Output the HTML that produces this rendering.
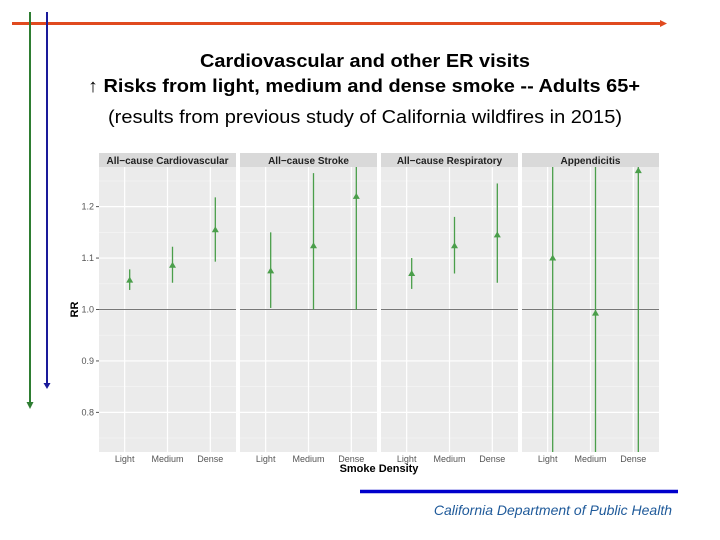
<!DOCTYPE html>
<html><head><meta charset="utf-8"><style>
body{margin:0;background:#fff;}
svg{display:block;font-family:"Liberation Sans",sans-serif;}
</style></head><body>
<svg id="c" width="720" height="540" viewBox="0 0 720 540">
<line x1="12" y1="23.5" x2="660" y2="23.5" stroke="#e04a1f" stroke-width="3"/>
<polygon points="660,20 667,23.5 660,27" fill="#e04a1f"/>
<line x1="30" y1="12" x2="30" y2="402" stroke="#2e7d32" stroke-width="2"/>
<polygon points="26.5,402 33.5,402 30,409" fill="#2e7d32"/>
<line x1="47" y1="12" x2="47" y2="383" stroke="#1a1a9a" stroke-width="2"/>
<polygon points="43.5,383 50.5,383 47,389" fill="#1a1a9a"/>
<text x="200" y="67" font-size="18.5" font-weight="bold" textLength="330" lengthAdjust="spacingAndGlyphs">Cardiovascular and other ER visits</text>
<text x="88" y="92" font-size="18.5" font-weight="bold" textLength="552" lengthAdjust="spacingAndGlyphs"><tspan font-weight="normal">↑</tspan> Risks from light, medium and dense smoke -- Adults 65+</text>
<text x="108" y="123" font-size="18.5" textLength="514" lengthAdjust="spacingAndGlyphs">(results from previous study of California wildfires in 2015)</text>
<g id="chart"></g>
<line x1="360" y1="491.5" x2="678" y2="491.5" stroke="#0000cc" stroke-width="3.5"/>
<text x="672" y="515" text-anchor="end" font-size="14" font-style="italic" fill="#1f5a9a">California Department of Public Health</text>
</svg>
<script>
const panels = ["All\u2212cause Cardiovascular","All\u2212cause Stroke","All\u2212cause Respiratory","Appendicitis"];
const categories = ["Light","Medium","Dense"];
const rr = [[1.057,1.086,1.155],[1.075,1.124,1.220],[1.070,1.124,1.145],[1.100,0.993,1.270]];
const lower = [[1.038,1.052,1.093],[1.003,1.000,1.000],[1.040,1.070,1.052],[0.700,0.700,0.700]];
const upper = [[1.078,1.122,1.218],[1.150,1.265,1.400],[1.100,1.180,1.245],[1.400,1.400,1.400]];
const yTicks = [0.8,0.9,1.0,1.1,1.2];
const yTickLabels = ["0.8","0.9","1.0","1.1","1.2"];

const NS="http://www.w3.org/2000/svg";
const g=document.getElementById('chart');
const pTop=167, pBot=452, yMin=0.723, yMax=1.277;
const px=[[99,236],[240,377],[381,518],[522,659]];
function y(v){return pBot-(v-yMin)/(yMax-yMin)*(pBot-pTop);}
function cx(p,i){const a=px[p][0],b=px[p][1];return a+(b-a)*((i+1-0.4)/3.2);}
function el(t,a,parent){const e=document.createElementNS(NS,t);for(const k in a)e.setAttribute(k,a[k]);(parent||g).appendChild(e);return e;}
const clip=el('clipPath',{id:'pc'});
el('rect',{x:99,y:pTop,width:560,height:pBot-pTop},clip);
panels.forEach((name,p)=>{
  const a=px[p][0],b=px[p][1];
  const bg=el('rect',{x:a,y:pTop,width:b-a,height:pBot-pTop,fill:'#ebebeb'});
  
  
  const st=el('rect',{x:a,y:153,width:b-a,height:14,fill:'#d9d9d9'});
  
  
  const stt=el('text',{x:(a+b)/2,y:164,'text-anchor':'middle','font-size':'10','font-weight':'bold',fill:'#222'});
  stt.textContent=name;
  
  
  const minors=[0.75,0.85,0.95,1.05,1.15,1.25];
  minors.forEach(m=>{const l=el('line',{x1:a,x2:b,y1:y(m),y2:y(m),stroke:'#f5f5f5','stroke-width':0.6});
    
    });
  yTicks.forEach(t=>{const l=el('line',{x1:a,x2:b,y1:y(t),y2:y(t),stroke:'#fff','stroke-width':1.2});
    
    });
  categories.forEach((c,i)=>{const l=el('line',{x1:cx(p,i),x2:cx(p,i),y1:pTop,y2:pBot,stroke:'#fff','stroke-width':1.2});
    
    
    const tl=el('text',{x:cx(p,i),y:462,'text-anchor':'middle','font-size':'9',fill:'#555'});
    tl.textContent=c;
    
    });
  const ref=el('line',{x1:a,x2:b,y1:y(1),y2:y(1),stroke:'#777','stroke-width':1});
  
  
  categories.forEach((c,i)=>{const x=cx(p,i)+5;
    const e=el('line',{x1:x,x2:x,y1:y(lower[p][i]),y2:y(upper[p][i]),stroke:'#4a9e4a','stroke-width':1.3,'clip-path':'url(#pc)'});
    
    
    const yy=y(rr[p][i]);
    const m=el('polygon',{points:`${x-3.5},${yy+2.5} ${x+3.5},${yy+2.5} ${x},${yy-3.5}`,fill:'#4a9e4a'});
    
    });
});
yTicks.forEach((t,i)=>{
  const tl=el('text',{x:94,y:y(t)+3,'text-anchor':'end','font-size':'9',fill:'#555'});
  tl.textContent=yTickLabels[i];
  
  
  const tk=el('line',{x1:96,x2:99,y1:y(t),y2:y(t),stroke:'#555'});
  
  });
const yt=el('text',{x:0,y:0,transform:`translate(78,${y(1)}) rotate(-90)`,'text-anchor':'middle','font-size':'11','font-weight':'bold'});
yt.textContent='RR';


const xt=el('text',{x:379,y:472,'text-anchor':'middle','font-size':'11','font-weight':'bold'});
xt.textContent='Smoke Density';


</script>
</body></html>
